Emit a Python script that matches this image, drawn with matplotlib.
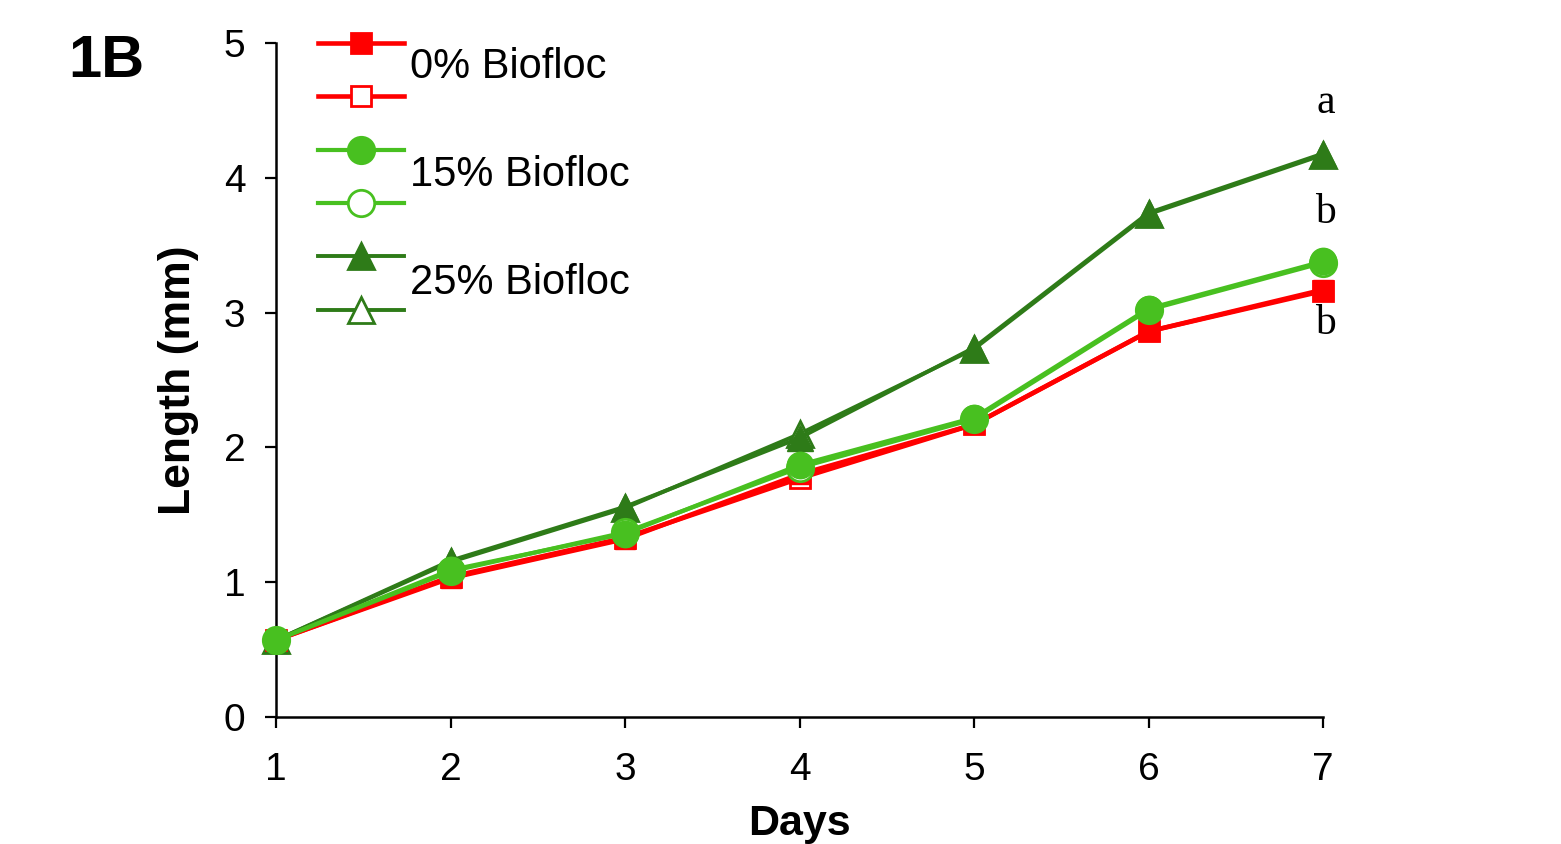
import matplotlib
matplotlib.use("Agg")
import matplotlib.pyplot as plt
from matplotlib.lines import Line2D

plt.rcParams['font.family'] = ['Liberation Sans', 'DejaVu Sans']

# ---- data ----
days = [1, 2, 3, 4, 5, 6, 7]
bf0_filled = [0.57, 1.03, 1.32, 1.80, 2.17, 2.86, 3.17]
bf0_open = [0.57, 1.04, 1.33, 1.77, 2.17, 2.86, 3.16]
bf15_filled = [0.57, 1.09, 1.36, 1.87, 2.22, 3.03, 3.38]
bf15_open = [0.57, 1.08, 1.37, 1.85, 2.21, 3.02, 3.37]
bf25_filled = [0.57, 1.16, 1.56, 2.07, 2.74, 3.74, 4.18]
bf25_open = [0.57, 1.15, 1.55, 2.10, 2.73, 3.73, 4.17]
group_labels = ['0% Biofloc', '15% Biofloc', '25% Biofloc']
sig_letters = ['a', 'b', 'b']
sig_y = [4.56, 3.74, 2.92]
y_ticks = [0, 1, 2, 3, 4, 5]

RED = '#FF0000'
LGREEN = '#48C020'
DGREEN = '#2E7B18'

fig = plt.figure(figsize=(15.61, 8.44), dpi=100)
W, H = 1561, 844
ax = fig.add_axes([276 / W, 1 - 717 / H, (1323 - 276) / W, (717 - 43) / H])

lw_red, lw_lg, lw_dg = 3.3, 3.0, 2.8
# dark green (lowest)
ax.plot(days, bf25_open, color=DGREEN, lw=lw_dg, marker='^', ms=19, mfc='white', mec=DGREEN, mew=2, zorder=2, clip_on=False)
ax.plot(days, bf25_filled, color=DGREEN, lw=lw_dg, marker='^', ms=19, mfc=DGREEN, mec=DGREEN, zorder=3, clip_on=False)
# red
ax.plot(days, bf0_open, color=RED, lw=lw_red, marker='s', ms=15, mfc='white', mec=RED, mew=2, zorder=4, clip_on=False)
ax.plot(days, bf0_filled, color=RED, lw=lw_red, marker='s', ms=15, mfc=RED, mec=RED, zorder=5, clip_on=False)
# light green (top)
ax.plot(days, bf15_open, color=LGREEN, lw=lw_lg, marker='o', ms=19, mfc='white', mec=LGREEN, mew=2, zorder=6, clip_on=False)
ax.plot(days, bf15_filled, color=LGREEN, lw=lw_lg, marker='o', ms=19, mfc=LGREEN, mec=LGREEN, zorder=7, clip_on=False)

for letter, yv in zip(sig_letters, sig_y):
    ax.text(7.015, yv, letter, ha='center', va='center', fontsize=30,
            family=['Liberation Serif', 'DejaVu Serif'])

ax.set_xlim(1, 7)
ax.set_ylim(0, 5)
ax.set_xticks(days)
ax.set_yticks(y_ticks)
ax.spines['top'].set_visible(False)
ax.spines['right'].set_visible(False)
for s in ['left', 'bottom']:
    ax.spines[s].set_linewidth(1.8)
ax.tick_params(axis='both', direction='out', length=8, width=1.6, labelsize=28)
ax.tick_params(axis='x', pad=17)
ax.tick_params(axis='y', pad=14)
ax.set_xlabel('Days', fontsize=31, fontweight='bold', labelpad=12)
ax.set_ylabel('Length (mm)', fontsize=32, fontweight='bold', labelpad=18)

# manual legend
rows = [(43, RED, 's', True, lw_red), (96, RED, 's', False, lw_red),
        (150, LGREEN, 'o', True, lw_lg), (203, LGREEN, 'o', False, lw_lg),
        (256, DGREEN, '^', True, lw_dg), (310, DGREEN, '^', False, lw_dg)]
msz = {'s': 15, 'o': 19, '^': 19}
for ypx, col, mk, filled, lwx in rows:
    yf = 1 - ypx / H
    ln = Line2D([318 / W, 361 / W, 404 / W], [yf, yf, yf], transform=fig.transFigure,
                color=col, lw=lwx, marker=mk, ms=msz[mk], markevery=[1],
                mfc=col if filled else 'white', mec=col, mew=2)
    fig.add_artist(ln)
for lab, ypx in zip(group_labels, [67, 175, 283]):
    fig.text(410 / W, 1 - ypx / H, lab, fontsize=30, ha='left', va='center')

fig.text(68 / W, 1 - 77 / H, '1B', fontsize=43, fontweight='bold', ha='left', va='baseline')

fig.savefig('out.png', dpi=100)
